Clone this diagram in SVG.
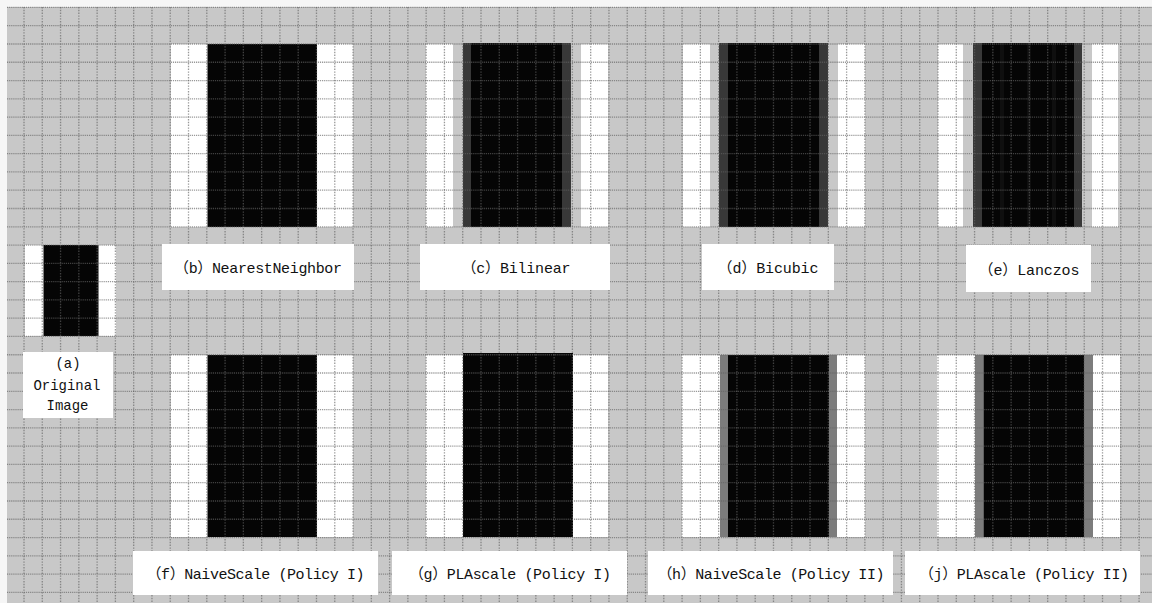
<svg xmlns="http://www.w3.org/2000/svg" width="1152" height="603" viewBox="0 0 1152 603">
<style>
.bg{fill:#c8c8c8}
.w{fill:#ffffff}
.k{fill:#050505}
.d{fill:#383838}
.m{fill:#7c7c7c}
.s{fill:#0f0f0f}
.box{fill:#ffffff}
.grid{fill:none;stroke:rgb(99,99,99);stroke-opacity:0.65;stroke-width:1.3}
.gv{stroke-dasharray:1.4 1.4}
.gh{stroke-dasharray:1.2 0.9}
.lbl{font-family:"Liberation Mono","Noto Sans CJK SC",monospace;font-size:15px;fill:#111;text-anchor:middle}
</style>
<rect x="0" y="0" width="1152" height="603" fill="#f6f6f6"/>
<rect class="bg" x="7" y="7" width="1145" height="596"/>

<g id="panel-a">
<rect class="w" x="25" y="245" width="91" height="91"/>
<rect class="k" x="43.5" y="245" width="55" height="91"/>
</g>
<g id="panel-b">
<rect class="w" x="171" y="44" width="182" height="183"/>
<rect class="k" x="207.5" y="44" width="109.5" height="183"/>
</g>
<g id="panel-c">
<rect class="w" x="426" y="44" width="27" height="183"/>
<rect class="w" x="581" y="44" width="27" height="183"/>
<rect class="d" x="463" y="43" width="8" height="184"/>
<rect class="k" x="471" y="43" width="91" height="184"/>
<rect class="d" x="562" y="43" width="9" height="184"/>
</g>
<g id="panel-d">
<rect class="w" x="683" y="44" width="27" height="183"/>
<rect class="w" x="838" y="44" width="27" height="183"/>
<rect class="d" x="719" y="43" width="9" height="184"/>
<rect class="k" x="728" y="43" width="91" height="184"/>
<rect class="d" x="819" y="43" width="9" height="184"/>
</g>
<g id="panel-e">
<rect class="w" x="938" y="44" width="25" height="183"/>
<rect class="w" x="1092" y="44" width="26" height="183"/>
<rect class="d" x="973" y="43" width="9" height="184"/>
<rect class="k" x="982" y="43" width="92" height="184"/>
<rect class="s" x="1000" y="43" width="4" height="184"/>
<rect class="s" x="1027" y="43" width="4" height="184"/>
<rect class="s" x="1052" y="43" width="4" height="184"/>
<rect class="d" x="1074" y="43" width="8" height="184"/>
</g>
<g id="panel-f">
<rect class="w" x="171" y="355" width="182" height="182"/>
<rect class="k" x="207.5" y="355" width="109.5" height="182"/>
</g>
<g id="panel-g">
<rect class="w" x="426" y="355" width="182" height="182"/>
<rect class="k" x="463" y="353" width="110" height="184"/>
</g>
<g id="panel-h">
<rect class="w" x="682" y="355" width="183" height="182"/>
<rect class="m" x="720" y="355" width="8" height="182"/>
<rect class="k" x="728" y="355" width="101" height="182"/>
<rect class="m" x="829" y="355" width="8" height="182"/>
</g>
<g id="panel-j">
<rect class="w" x="937" y="355" width="183" height="182"/>
<rect class="m" x="975" y="355" width="8.5" height="182"/>
<rect class="k" x="983.5" y="355" width="100.5" height="182"/>
<rect class="m" x="1084" y="355" width="9" height="182"/>
</g>

<g id="grid">
<path class="grid gv" d="M24 7V603M42.28 7V603M60.56 7V603M78.84 7V603M97.12 7V603M115.4 7V603M133.68 7V603M151.96 7V603M170.24 7V603M188.52 7V603M206.8 7V603M225.08 7V603M243.36 7V603M261.64 7V603M279.92 7V603M298.2 7V603M316.48 7V603M334.76 7V603M353.04 7V603M371.32 7V603M389.6 7V603M407.88 7V603M426.16 7V603M444.44 7V603M462.72 7V603M481 7V603M499.28 7V603M517.56 7V603M535.84 7V603M554.12 7V603M572.4 7V603M590.68 7V603M608.96 7V603M627.24 7V603M645.52 7V603M663.8 7V603M682.08 7V603M700.36 7V603M718.64 7V603M736.92 7V603M755.2 7V603M773.48 7V603M791.76 7V603M810.04 7V603M828.32 7V603M846.6 7V603M864.88 7V603M883.16 7V603M901.44 7V603M919.72 7V603M938 7V603M956.28 7V603M974.56 7V603M992.84 7V603M1011.12 7V603M1029.4 7V603M1047.68 7V603M1065.96 7V603M1084.24 7V603M1102.52 7V603M1120.8 7V603M1139.08 7V603"/>
<path class="grid gh" d="M7 7.42H1152M7 25.7H1152M7 43.98H1152M7 62.26H1152M7 80.54H1152M7 98.82H1152M7 117.1H1152M7 135.38H1152M7 153.66H1152M7 171.94H1152M7 190.22H1152M7 208.5H1152M7 226.78H1152M7 245.06H1152M7 263.34H1152M7 281.62H1152M7 299.9H1152M7 318.18H1152M7 336.46H1152M7 354.74H1152M7 373.02H1152M7 391.3H1152M7 409.58H1152M7 427.86H1152M7 446.14H1152M7 464.42H1152M7 482.7H1152M7 500.98H1152M7 519.26H1152M7 537.54H1152M7 555.82H1152M7 574.1H1152M7 592.38H1152"/>
</g>

<g id="label-a">
<rect class="box" x="23" y="352" width="90" height="66"/>
<text class="lbl" x="68" y="368" textLength="25" lengthAdjust="spacingAndGlyphs">(a)</text>
<text class="lbl" x="67" y="390" textLength="67" lengthAdjust="spacingAndGlyphs">Original</text>
<text class="lbl" x="67.5" y="410" textLength="42" lengthAdjust="spacingAndGlyphs">Image</text>
</g>
<g id="label-b">
<rect class="box" x="162" y="244" width="192" height="46"/>
<text class="lbl" x="258" y="273" textLength="168" lengthAdjust="spacing">（b）NearestNeighbor</text>
</g>
<g id="label-c">
<rect class="box" x="420" y="244" width="190" height="46"/>
<text class="lbl" x="516" y="273" textLength="109" lengthAdjust="spacing">（c）Bilinear</text>
</g>
<g id="label-d">
<rect class="box" x="702" y="244" width="132" height="46"/>
<text class="lbl" x="768" y="273" textLength="101" lengthAdjust="spacing">（d）Bicubic</text>
</g>
<g id="label-e">
<rect class="box" x="966" y="245" width="125" height="47"/>
<text class="lbl" x="1029" y="275" textLength="101" lengthAdjust="spacing">（e）Lanczos</text>
</g>
<g id="label-f">
<rect class="box" x="133" y="551" width="245" height="44"/>
<text class="lbl" x="255.5" y="579" textLength="218" lengthAdjust="spacing">（f）NaiveScale (Policy I)</text>
</g>
<g id="label-g">
<rect class="box" x="392" y="551" width="235" height="44"/>
<text class="lbl" x="510" y="579" textLength="202" lengthAdjust="spacing">（g）PLAscale (Policy I)</text>
</g>
<g id="label-h">
<rect class="box" x="648" y="551" width="245" height="44"/>
<text class="lbl" x="771" y="579" textLength="227" lengthAdjust="spacing">（h）NaiveScale (Policy II)</text>
</g>
<g id="label-j">
<rect class="box" x="905" y="551" width="235" height="44"/>
<text class="lbl" x="1024" y="579" textLength="210" lengthAdjust="spacing">（j）PLAscale (Policy II)</text>
</g>
</svg>
